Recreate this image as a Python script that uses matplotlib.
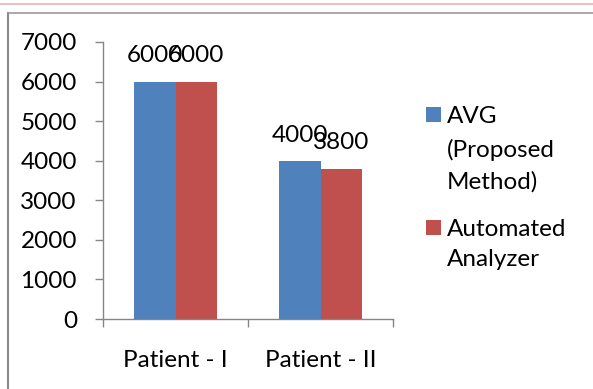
import matplotlib
matplotlib.use("Agg")
import matplotlib.pyplot as plt
from matplotlib.patches import Rectangle
from matplotlib.lines import Line2D
import numpy as np

categories = ["Patient - I", "Patient - II"]
series_names = ["AVG\n(Proposed\nMethod)", "Automated\nAnalyzer"]
avg_values = [6000, 4000]
analyzer_values = [6000, 3800]
series_colors = ["#4F81BD", "#C0504D"]
y_ticks = [0, 1000, 2000, 3000, 4000, 5000, 6000, 7000]

FONT = "Lato"
FS = 17.5
GRAY = "#868686"

W, H = 593, 389
fig = plt.figure(figsize=(W / 100, H / 100), dpi=100)
fig.patch.set_facecolor("white")

def fx(px):
    return px / W

def fy(py):
    return 1 - py / H

ax = fig.add_axes([fx(103), fy(319), fx(393) - fx(103), fy(42) - fy(319)])

x = np.arange(len(categories))
bw = 0.283
bars_a = ax.bar(x - bw / 2, avg_values, bw, color=series_colors[0], edgecolor="none")
bars_b = ax.bar(x + bw / 2, analyzer_values, bw, color=series_colors[1], edgecolor="none")

for bars, vals in ((bars_a, avg_values), (bars_b, analyzer_values)):
    for b, v in zip(bars, vals):
        ax.annotate(f"{v}", (b.get_x() + b.get_width() / 2, v), xytext=(0, 18.5),
                    textcoords="offset points", ha="center", va="center",
                    fontsize=FS, family=FONT, color="black")

ax.set_xlim(-0.5, len(categories) - 0.5)
ax.set_ylim(0, 7000)
ax.set_yticks(y_ticks)
ax.set_yticklabels([str(t) for t in y_ticks], fontsize=FS, family=FONT)

ax.set_xticks(np.arange(len(categories) + 1) - 0.5)
ax.set_xticklabels([])
ax.set_xticks(x, minor=True)
ax.set_xticklabels(categories, minor=True, fontsize=FS, family=FONT)

ax.tick_params(axis="y", direction="out", length=5.8, width=1, color=GRAY, pad=13)
ax.tick_params(axis="x", which="major", direction="out", length=5.8, width=1, color=GRAY)
ax.tick_params(axis="x", which="minor", length=0, pad=22)

for s in ("top", "right"):
    ax.spines[s].set_visible(False)
for s in ("left", "bottom"):
    ax.spines[s].set_color(GRAY)
    ax.spines[s].set_linewidth(1)

# legend drawn by hand: square beside the first line of each label
legend_rows = [(107, [115, 148, 180]), (220, [227, 258])]
for (sq_top, line_ys), name, col in zip(legend_rows, series_names, series_colors):
    fig.patches.append(Rectangle((fx(426), fy(sq_top + 15)), fx(15), fy(sq_top) - fy(sq_top + 15),
                                 transform=fig.transFigure, facecolor=col, edgecolor="none"))
    for line, ly in zip(name.split("\n"), line_ys):
        fig.text(fx(447), fy(ly), line, ha="left", va="center_baseline", fontsize=FS,
                 family=FONT, transform=fig.transFigure)

# chart frame and page rule
fig.add_artist(Line2D([fx(7.5), fx(7.5)], [fy(12.5), 0], transform=fig.transFigure,
                      color="#8a8a8a", linewidth=1.5))
fig.add_artist(Line2D([fx(7.5), 1], [fy(12.5), fy(12.5)], transform=fig.transFigure,
                      color="#9a9a9a", linewidth=1.2))
fig.add_artist(Line2D([0, 1], [fy(4), fy(4)], transform=fig.transFigure,
                      color="#e8b4b4", linewidth=1.2))

fig.savefig("out.png", dpi=100)
